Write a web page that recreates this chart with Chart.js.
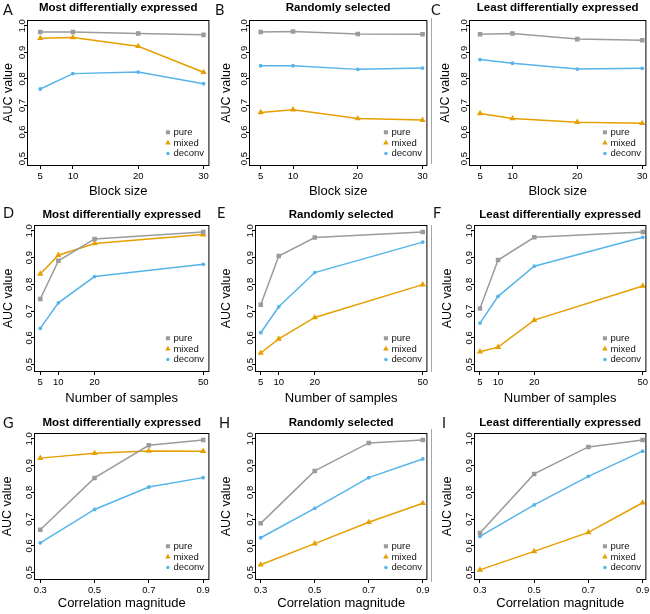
<!DOCTYPE html>
<html>
<head>
<meta charset="utf-8">
<script src="https://cdn.jsdelivr.net/npm/chart.js@4"></script>
<style>
  html, body { margin: 0; padding: 0; background: #fff; }
  body { width: 650px; height: 614px; position: relative; overflow: hidden; }
  canvas { position: absolute; }
  .letter { position: absolute; font-family: Lato, "Open Sans", sans-serif; font-size: 14.5px; line-height: 1; color: #111; }
  .edge { position: absolute; width: 1px; background: #a8a8a8; }
</style>
</head>
<body>
<script>
const blockSizes = [5, 10, 20, 30];
const sampleSizes = [5, 10, 20, 50];
const corrMagnitudes = [0.3, 0.5, 0.7, 0.9];
const aucTicks = [0.5, 0.6, 0.7, 0.8, 0.9, 1.0];
const seriesNames = ["pure", "mixed", "deconv"];

// row 1: block size
const pureA = [0.977, 0.977, 0.971, 0.966];
const mixedA = [0.953, 0.956, 0.923, 0.825];
const deconvA = [0.762, 0.820, 0.826, 0.782];
const pureB = [0.977, 0.979, 0.969, 0.968];
const mixedB = [0.674, 0.684, 0.651, 0.645];
const deconvB = [0.850, 0.850, 0.836, 0.841];
const pureC = [0.968, 0.971, 0.950, 0.946];
const mixedC = [0.670, 0.651, 0.637, 0.633];
const deconvC = [0.873, 0.859, 0.837, 0.840];

// row 2: number of samples
const pureD = [0.745, 0.888, 0.970, 0.996];
const mixedD = [0.839, 0.909, 0.953, 0.986];
const deconvD = [0.635, 0.731, 0.829, 0.875];
const pureE = [0.724, 0.906, 0.975, 0.996];
const mixedE = [0.543, 0.596, 0.676, 0.799];
const deconvE = [0.619, 0.716, 0.844, 0.958];
const pureF = [0.710, 0.891, 0.976, 0.996];
const mixedF = [0.548, 0.565, 0.666, 0.794];
const deconvF = [0.655, 0.755, 0.868, 0.976];

// row 3: correlation magnitude
const pureG = [0.660, 0.854, 0.976, 0.996];
const mixedG = [0.928, 0.946, 0.955, 0.954];
const deconvG = [0.611, 0.736, 0.820, 0.855];
const pureH = [0.684, 0.880, 0.985, 0.996];
const mixedH = [0.529, 0.608, 0.688, 0.759];
const deconvH = [0.630, 0.740, 0.855, 0.925];
const pureI = [0.648, 0.869, 0.970, 0.996];
const mixedI = [0.510, 0.579, 0.650, 0.761];
const deconvI = [0.635, 0.753, 0.860, 0.954];

const titleMost = "Most differentially expressed";
const titleRandom = "Randomly selected";
const titleLeast = "Least differentially expressed";

const colors = ["#9b9b9b", "#e69f00", "#56b4e9"];
const markers = ["rect", "triangle", "circle"];
const radii = [3.2, 3.6, 1.9];
const FONT = "'Liberation Sans', Arial, Helvetica, sans-serif";

// box edges, title gaps, axis-title centres
const panels = [
  { letter: "A", title: titleMost, x: blockSizes, xlabel: "Block size", values: [pureA, mixedA, deconvA],
    l: 27, r: 210, t: 20, b: 166, ytx: 8.3, gap: 12.5, xh: 35, xmin: 2.97, xmax: 30.9, lx: 3, ly: 3 },
  { letter: "B", title: titleRandom, x: blockSizes, xlabel: "Block size", values: [pureB, mixedB, deconvB],
    l: 249, r: 428, t: 20, b: 166, ytx: 226.7, gap: 12.5, xh: 35, xmin: 3.2, xmax: 30.75, lx: 215, ly: 3 },
  { letter: "C", title: titleLeast, x: blockSizes, xlabel: "Block size", values: [pureC, mixedC, deconvC],
    l: 469, r: 647, t: 20, b: 166, ytx: 445.3, gap: 12.5, xh: 35, xmin: 3.3, xmax: 30.65, lx: 431, ly: 3 },
  { letter: "D", title: titleMost, x: sampleSizes, xlabel: "Number of samples", values: [pureD, mixedD, deconvD],
    l: 34, r: 210, t: 225, b: 372, ytx: 8.3, gap: 10.5, xh: 36, xmin: 3.27, xmax: 51.7, lx: 3, ly: 206 },
  { letter: "E", title: titleRandom, x: sampleSizes, xlabel: "Number of samples", values: [pureE, mixedE, deconvE],
    l: 255, r: 428, t: 225, b: 372, ytx: 226.7, gap: 10.5, xh: 36, xmin: 3.4, xmax: 51.3, lx: 217, ly: 206 },
  { letter: "F", title: titleLeast, x: sampleSizes, xlabel: "Number of samples", values: [pureF, mixedF, deconvF],
    l: 474, r: 647, t: 225, b: 372, ytx: 447.5, gap: 10.5, xh: 36, xmin: 3.35, xmax: 51.0, lx: 433, ly: 206 },
  { letter: "G", title: titleMost, x: corrMagnitudes, xlabel: "Correlation magnitude", values: [pureG, mixedG, deconvG],
    l: 34, r: 210, t: 433, b: 580, ytx: 7.5, gap: 10.5, xh: 33, xmin: 0.277, xmax: 0.923, lx: 3, ly: 416 },
  { letter: "H", title: titleRandom, x: corrMagnitudes, xlabel: "Correlation magnitude", values: [pureH, mixedH, deconvH],
    l: 255, r: 428, t: 433, b: 580, ytx: 226, gap: 10.5, xh: 33, xmin: 0.279, xmax: 0.917, lx: 219, ly: 416 },
  { letter: "I", title: titleLeast, x: corrMagnitudes, xlabel: "Correlation magnitude", values: [pureI, mixedI, deconvI],
    l: 474, r: 647, t: 433, b: 580, ytx: 447.5, gap: 10.5, xh: 33, xmin: 0.278, xmax: 0.914, lx: 442, ly: 416 },
];

const boxPlugin = {
  id: "box",
  afterDraw(chart) {
    const { ctx, chartArea: a } = chart;
    ctx.save();
    ctx.strokeStyle = "#000";
    ctx.lineWidth = 1;
    ctx.strokeRect(a.left + 0.5, a.top + 0.5, a.right - a.left - 1, a.bottom - a.top - 1);
    ctx.restore();
  },
};

// legend sits inside the plot, bottom right, like R's legend("bottomright")
const insideLegend = {
  id: "insideLegend",
  afterDraw(chart) {
    const { ctx, chartArea: a } = chart;
    const sets = chart.data.datasets;
    ctx.save();
    ctx.font = "9.5px " + FONT;
    ctx.textBaseline = "middle";
    sets.forEach((ds, i) => {
      const y = a.bottom - 12.5 - (sets.length - 1 - i) * 10.6;
      ctx.fillStyle = ds.backgroundColor;
      Chart.helpers.drawPoint(ctx, { pointStyle: ds.pointStyle, radius: ds.pointRadius * 0.9, borderWidth: 0, rotation: 0 }, a.right - 41.5, y);
      ctx.fillStyle = "#111";
      ctx.fillText(ds.label, a.right - 36, y);
    });
    ctx.restore();
  },
};

function makePanel(p) {
  const titleLine = 11.5 * 1.2;
  const padBottom = p.gap - titleLine / 2;
  const cl = Math.round(p.ytx - 7.5);
  const ct = Math.round(p.t - titleLine - padBottom);
  const padTop = (p.t - ct) - titleLine - padBottom;
  const yWidth = p.l - cl;
  const cw = p.r + 3 - cl;
  const ch = p.b + p.xh - ct;

  const canvas = document.createElement("canvas");
  canvas.width = cw;
  canvas.height = ch;
  canvas.style.left = cl + "px";
  canvas.style.top = ct + "px";
  document.body.appendChild(canvas);

  const tickGrid = { display: true, drawOnChartArea: false, drawTicks: true, tickLength: 3, color: "#000", lineWidth: 1 };

  new Chart(canvas, {
    type: "line",
    data: {
      datasets: seriesNames.map((name, i) => ({
        label: name,
        data: p.x.map((x, j) => ({ x: x, y: p.values[i][j] })),
        borderColor: colors[i],
        backgroundColor: colors[i],
        borderWidth: 1.5,
        tension: 0,
        pointStyle: markers[i],
        pointRadius: radii[i],
        pointHoverRadius: radii[i],
        pointBorderWidth: 0,
      })),
    },
    options: {
      responsive: false,
      animation: false,
      events: [],
      layout: { padding: { left: 0, top: 0, right: 3, bottom: 0 } },
      plugins: {
        legend: { display: false },
        tooltip: { enabled: false },
        title: {
          display: true,
          text: p.title,
          fullSize: false,
          color: "#000",
          font: { family: FONT, size: 11.5, weight: "bold", lineHeight: 1.2 },
          padding: { top: padTop, bottom: padBottom },
        },
      },
      scales: {
        x: {
          type: "linear",
          min: p.xmin,
          max: p.xmax,
          afterBuildTicks: (s) => { s.ticks = p.x.map((v) => ({ value: v })); },
          afterFit: (s) => { s.height = p.xh; s.paddingLeft = 0; s.paddingRight = 0; },
          ticks: {
            autoSkip: false, minRotation: 0, maxRotation: 0, padding: 2, color: "#000",
            font: { family: FONT, size: 9.5 },
            callback: (v) => String(v),
          },
          grid: tickGrid,
          border: { display: false },
          title: {
            display: true, text: p.xlabel, color: "#000",
            font: { family: FONT, size: 13, lineHeight: 1.2 },
            padding: { top: 0, bottom: 2 },
          },
        },
        y: {
          type: "linear",
          min: 0.472,
          max: 1.022,
          afterBuildTicks: (s) => { s.ticks = aucTicks.map((v) => ({ value: v })); },
          afterFit: (s) => { s.width = yWidth; s.paddingTop = 0; s.paddingBottom = 0; },
          ticks: {
            autoSkip: false, minRotation: 90, maxRotation: 90, crossAlign: "center", padding: -4.6,
            color: "#000", font: { family: FONT, size: 9.5 },
            callback: (v) => v.toFixed(1),
          },
          grid: tickGrid,
          border: { display: false },
          title: {
            display: true, text: "AUC value", color: "#000",
            font: { family: FONT, size: 12.5, lineHeight: 1.2 },
            padding: { top: 0, bottom: 0 },
          },
        },
      },
    },
    plugins: [boxPlugin, insideLegend],
  });

  const letter = document.createElement("div");
  letter.className = "letter";
  letter.textContent = p.letter;
  letter.style.left = p.lx + "px";
  letter.style.top = p.ly + "px";
  document.body.appendChild(letter);
}

panels.forEach(makePanel);

// faint seam left over from the figure's composite, beside the right column
[[18, 146], [225, 147], [429, 153]].forEach(([top, h]) => {
  const d = document.createElement("div");
  d.className = "edge";
  d.style.left = "431px";
  d.style.top = top + "px";
  d.style.height = h + "px";
  document.body.appendChild(d);
});
</script>
</body>
</html>
